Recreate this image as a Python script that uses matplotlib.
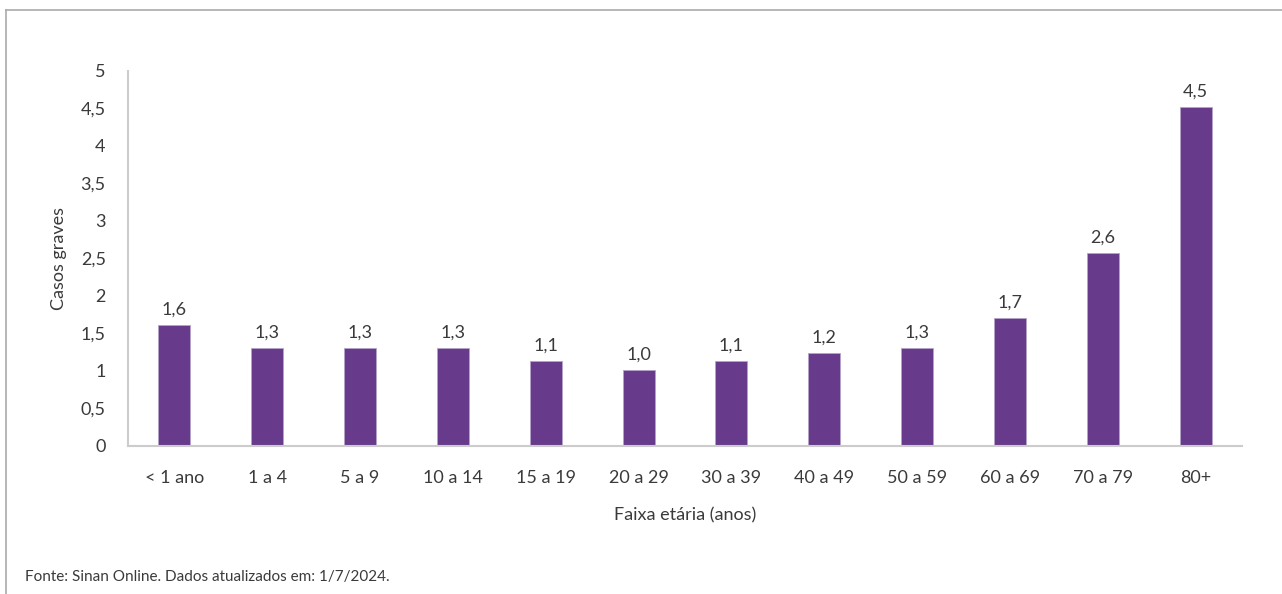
import matplotlib.pyplot as plt
from matplotlib.lines import Line2D

plt.rcParams['font.family'] = ['Lato', 'DejaVu Sans']

# --- data ---
faixas = ['< 1 ano', '1 a 4', '5 a 9', '10 a 14', '15 a 19', '20 a 29',
          '30 a 39', '40 a 49', '50 a 59', '60 a 69', '70 a 79', '80+']
casos_graves = [1.61, 1.31, 1.31, 1.31, 1.13, 1.01, 1.13, 1.24, 1.31, 1.71, 2.57, 4.52]
y_ticks = [0, 0.5, 1, 1.5, 2, 2.5, 3, 3.5, 4, 4.5, 5]

bar_color = '#673a8c'
text_color = '#3a3a3a'
axis_color = '#cccccc'


def fmt(v):
    return f'{v:g}'.replace('.', ',')


def main():
    fig = plt.figure(figsize=(12.82, 5.94), dpi=100)
    ax = fig.add_axes([0.0998, 0.2492, 0.869, 0.6313])

    x = range(len(faixas))
    ax.bar(x, casos_graves, width=0.345, color=bar_color,
           edgecolor='#b5a3c8', linewidth=0.6, zorder=2)

    for xi, v in zip(x, casos_graves):
        ax.text(xi, v + 0.1, f'{v:.1f}'.replace('.', ','), ha='center', va='bottom',
                fontsize=13, color=text_color)

    ax.set_xlim(-0.5, len(faixas) - 0.5)
    ax.set_ylim(0, 5)
    ax.set_yticks(y_ticks)
    ax.set_yticklabels([fmt(t) for t in y_ticks])
    ax.set_xticks(list(x))
    ax.set_xticklabels(faixas)
    ax.tick_params(axis='both', length=0, labelsize=13, colors=text_color)
    ax.tick_params(axis='x', pad=17)
    ax.tick_params(axis='y', pad=16)

    for side in ('top', 'right'):
        ax.spines[side].set_visible(False)
    for side in ('left', 'bottom'):
        ax.spines[side].set_color(axis_color)
        ax.spines[side].set_linewidth(1.5)

    ax.set_xlabel('Faixa etária (anos)', fontsize=13, color=text_color, labelpad=16)
    ax.set_ylabel('Casos graves', fontsize=13, color=text_color, labelpad=10)

    fig.text(25 / 1282, 1 - 577 / 594, 'Fonte: Sinan Online. Dados atualizados em: 1/7/2024.',
             fontsize=11, color=text_color, va='center', ha='left')

    # moldura cinza (topo e lado esquerdo)
    fig.add_artist(Line2D([6 / 1282, 1], [1 - 10 / 594, 1 - 10 / 594],
                          transform=fig.transFigure, color='#aaaaaa', linewidth=1.2))
    fig.add_artist(Line2D([6 / 1282, 6 / 1282], [0, 1 - 10 / 594],
                          transform=fig.transFigure, color='#aaaaaa', linewidth=1.2))

    fig.savefig('out.png', dpi=100)


if __name__ == '__main__':
    main()
